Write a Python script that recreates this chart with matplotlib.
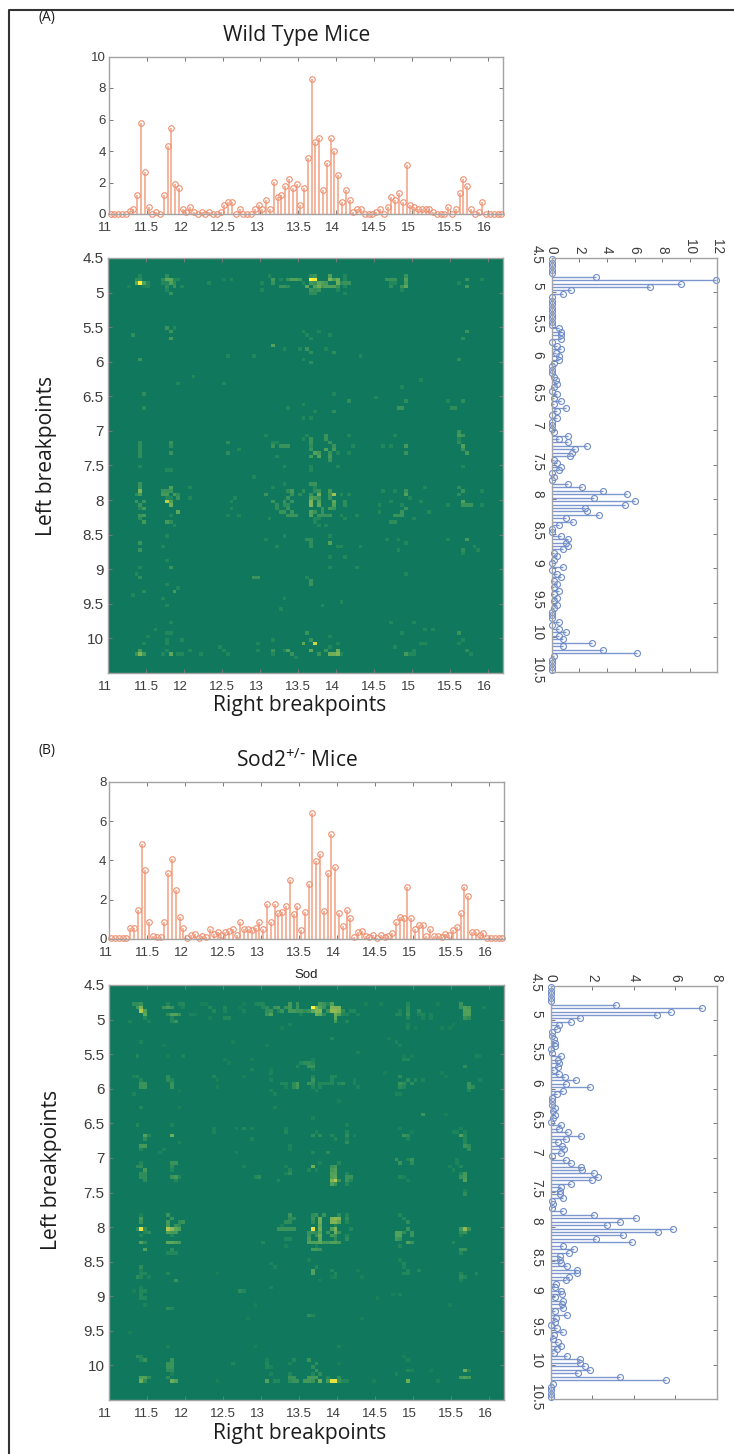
import matplotlib
matplotlib.use('Agg')
import matplotlib.pyplot as plt
from matplotlib.colors import LinearSegmentedColormap
from matplotlib.lines import Line2D
from matplotlib.transforms import ScaledTranslation
import numpy as np

W, H = 734, 1454

# marginal counts along right breakpoints (top stems)
wt_right = [0,0,0,0,0,.2,.3,1.2,5.75,2.65,.45,0,.15,0,1.2,4.3,5.45,1.9,1.65,.3,.15,.45,.15,0,.15,0,.15,0,0,.15,
            .6,.75,.75,0,.3,0,0,0,.3,.6,.3,.9,.3,2.05,1.05,1.2,1.8,2.2,1.65,1.9,.6,1.65,3.55,8.55,4.55,4.85,1.5,3.25,4.85,4.0,
            2.5,.75,1.5,.9,.15,.3,.3,0,0,0,.15,.3,0,.45,1.05,.9,1.35,.75,3.1,.6,.45,.3,.3,.3,.3,.15,0,0,0,.45,
            0,.3,1.35,2.2,1.8,.3,0,.15,.75,0,0,0,0,0]
sod_right = [.03,.03,.03,.03,.03,.55,.55,1.45,4.85,3.5,.85,.15,.1,.1,.85,3.35,4.05,2.5,1.1,.55,.05,.2,.25,.05,.15,.1,.5,.25,.35,.2,
             .35,.4,.5,.2,.85,.5,.5,.45,.55,.85,.5,1.8,.85,1.8,1.3,1.35,1.7,3.0,1.25,1.7,.45,1.35,2.8,6.4,3.95,4.3,1.4,3.35,5.35,3.65,
             1.3,.65,1.45,1.05,.1,.35,.4,.15,.1,.2,.05,.2,.1,.15,.3,.85,1.1,1.05,2.65,1.05,.5,.7,.7,.15,.5,.15,.15,.1,.25,.2,
             .45,.6,1.3,2.65,2.2,.35,.35,.2,.3,.03,.03,.03,.03,.03]

# marginal counts along left breakpoints (side stems)
wt_left = [0,0,0,0,0,3.2,11.9,9.4,7.15,1.4,.85,0,0,0,0,0,0,0,0,0,.5,.7,.7,.7,0,.35,.7,.3,.5,.5,
           .2,0,0,0,.2,.3,.35,.2,0,.35,.2,.7,.2,1.05,.35,0,.35,0,0,0,.2,1.2,.5,1.2,2.55,1.7,1.5,1.35,.2,.35,
           .7,.5,0,.2,0,1.2,2.2,3.75,5.45,3.05,6,5.3,2.4,2.55,3.4,1.05,1.55,.5,0,0,.7,1.2,1.05,1.2,.85,.2,.35,.2,0,.85,
           0,.35,.7,.2,.35,.2,.5,.2,.35,.2,.35,.2,0,0,0,.5,0,.5,1.05,.5,.85,2.9,.85,3.75,6.15,.2,0,0,0,0]
sod_left = [.02,.02,.02,.02,.02,3.15,7.3,5.8,5.1,1.4,1.0,.4,.3,.05,.05,.15,.2,.2,.02,.07,.5,.35,.4,.35,.15,.4,.7,1.2,.75,1.9,
            .6,.3,.08,.08,.05,.2,.1,.2,.1,0,.5,.4,.85,1.45,.75,.35,.55,.65,.5,.05,.75,1.0,1.45,1.5,2.1,2.3,2.0,1.0,.5,.45,
            .45,.6,.05,.1,.05,.6,2.1,4.1,3.35,2.7,5.9,5.15,3.5,2.2,3.9,.6,1.1,.9,.45,.45,.5,.8,1.25,1.25,.9,.75,.25,.2,.5,.55,
            .2,.6,.55,.6,.2,.8,.25,.2,0,.3,.6,.15,.1,.35,.5,.3,.15,.8,1.4,1.4,1.65,1.9,1.3,3.35,5.55,.1,.02,.02,.02,.02]

# brightest heatmap cells read by eye, (row, col, level), rest stays background
wt_cells = [
    (5,8,.2),(5,15,.25),(5,42,.2),(5,53,.25),(5,54,.3),(5,58,.4),(5,62,.2),(5,78,.3),
    (6,7,.25),(6,8,.25),(6,14,.25),(6,15,.45),(6,16,.45),(6,17,.2),(6,18,.2),(6,30,.15),(6,32,.2),(6,43,.35),(6,45,.2),(6,47,.3),(6,48,.4),(6,49,.4),(6,50,.35),
    (6,53,1),(6,54,.95),(6,58,.55),(6,59,.4),(6,60,.5),(6,62,.2),(6,73,.3),(6,74,.3),(6,75,.3),(6,78,.4),(6,94,.3),(6,98,.2),
    (7,7,.45),(7,8,1),(7,9,.4),(7,10,.2),(7,14,.2),(7,15,.2),(7,16,.4),(7,17,.25),(7,26,.2),(7,40,.2),(7,43,.3),(7,51,.2),(7,53,.35),(7,54,.3),(7,55,.45),(7,56,.4),
    (7,57,.35),(7,60,.5),(7,61,.25),(7,62,.3),(7,63,.3),(7,74,.2),(7,75,.2),(7,78,.35),(7,92,.2),
    (8,5,.15),(8,9,.15),(8,10,.2),(8,15,.25),(8,17,.3),(8,19,.2),(8,45,.3),(8,46,.3),(8,47,.25),(8,52,.45),(8,54,.4),(8,55,.5),(8,56,.35),(8,57,.4),(8,58,.4),(8,59,.4),(8,60,.3),
    (8,62,.2),(8,74,.25),(8,77,.3),(8,78,.45),(8,94,.35),
    (9,15,.2),(9,40,.2),(9,53,.3),(9,54,.25),(9,55,.3),(9,60,.2),(9,77,.2),(10,16,.3),(10,53,.25),(10,54,.25),(10,62,.2),
    (20,15,.3),(20,17,.2),(21,16,.3),(21,51,.2),(21,55,.2),(21,94,.3),(22,6,.25),(22,52,.2),(22,58,.2),(23,16,.35),(23,53,.2),(23,93,.25),
    (25,43,.4),(26,46,.2),(26,50,.2),(26,52,.3),(26,57,.2),(27,53,.25),(27,59,.25),(28,31,.2),(28,38,.2),(28,66,.2),(29,8,.3),(29,51,.2),(29,92,.25),(30,53,.25),
    (34,22,.2),(35,82,.2),(36,18,.2),(36,30,.2),(37,77,.2),(39,9,.25),(39,59,.2),(40,70,.2),(41,63,.25),(41,78,.25),(41,89,.2),(41,93,.25),(42,51,.2),
    (43,9,.25),(43,47,.2),(43,76,.3),(43,77,.3),(43,90,.25),(43,91,.25),(44,54,.2),(44,59,.25),(46,51,.2),(46,53,.2),
    (50,92,.3),(51,41,.2),(51,52,.2),(51,57,.3),(51,63,.2),(51,75,.2),(51,92,.35),(51,93,.3),(52,51,.2),(52,53,.3),(52,57,.3),(52,92,.2),
    (53,8,.25),(53,16,.3),(53,31,.25),(53,43,.2),(53,44,.2),(53,53,.3),(53,58,.3),(53,92,.25),
    (54,8,.25),(54,16,.25),(54,43,.3),(54,45,.3),(54,46,.3),(54,47,.3),(54,53,.25),(54,59,.3),(54,64,.2),(54,72,.2),(54,74,.2),(54,78,.35),(54,93,.4),
    (55,8,.25),(55,34,.2),(55,53,.3),(55,57,.4),(55,59,.35),(55,93,.3),(56,8,.25),(56,16,.3),(56,31,.25),(56,54,.4),(56,55,.35),(56,58,.3),(56,60,.2),(56,63,.2),(56,78,.3),(56,94,.35),
    (57,8,.25),(57,44,.2),(57,53,.35),(57,55,.4),(57,58,.35),(58,58,.3),(60,8,.2),(60,46,.2),(60,53,.2),(60,60,.2),(60,93,.2),
    (61,15,.2),(61,16,.2),(61,53,.2),(63,38,.2),
    (65,8,.3),(65,46,.2),(65,53,.3),(65,54,.3),(66,8,.3),(66,16,.4),(66,21,.2),(66,43,.2),(66,54,.2),(66,83,.2),(66,92,.25),
    (67,8,.55),(67,14,.3),(67,15,.3),(67,16,.3),(67,47,.25),(67,48,.35),(67,51,.25),(67,54,.25),(67,55,.3),(67,58,.35),(67,72,.2),(67,75,.2),(67,78,.3),(67,93,.3),(67,98,.2),
    (68,7,.25),(68,8,.35),(68,14,.35),(68,15,.35),(68,17,.35),(68,18,.25),(68,41,.3),(68,48,.3),(68,50,.25),(68,53,.3),(68,55,.5),(68,58,.3),(68,59,.65),(68,61,.2),(68,63,.2),(68,78,.4),(68,92,.25),
    (69,15,.2),(69,16,.2),(69,18,.3),(69,21,.2),(69,33,.2),(69,47,.3),(69,53,.4),(69,54,.35),(69,55,.3),(69,58,.3),(69,79,.2),
    (70,7,.3),(70,9,.3),(70,15,.75),(70,16,.4),(70,32,.2),(70,43,.3),(70,46,.3),(70,48,.3),(70,53,.55),(70,55,.4),(70,59,.45),(70,62,.25),(70,74,.2),(70,82,.2),(70,93,.4),
    (71,8,.3),(71,16,.5),(71,44,.25),(71,46,.25),(71,47,.25),(71,53,.55),(71,55,.45),(71,59,.4),(71,62,.25),(71,71,.2),(71,77,.2),(71,89,.2),(71,93,.3),(71,94,.3),(71,95,.3),(71,98,.2),
    (72,8,.2),(72,9,.35),(72,32,.2),(72,44,.25),(72,47,.3),(72,56,.3),(72,58,.35),(72,59,.3),(72,78,.3),
    (73,18,.45),(73,45,.3),(73,46,.3),(73,48,.3),(73,53,.4),(73,54,.3),(73,56,.3),(73,71,.2),(73,77,.3),(73,84,.2),
    (74,8,.3),(74,9,.35),(74,16,.2),(74,31,.2),(74,34,.2),(74,47,.3),(74,48,.3),(74,49,.3),(74,53,.4),(74,55,.3),(74,56,.3),(74,57,.3),(74,58,.3),(74,61,.2),(74,65,.2),(74,75,.3),(74,76,.3),(74,77,.3),
    (75,8,.25),(75,42,.2),(75,54,.2),(75,55,.2),(75,62,.2),(75,80,.2),(76,9,.35),(76,15,.35),(76,16,.25),(76,54,.2),(76,74,.25),(76,75,.25),(77,17,.2),(77,55,.2),(77,57,.2),
    (80,15,.2),(80,46,.2),(80,58,.2),(81,41,.2),(81,52,.25),(81,53,.25),(81,73,.2),(81,76,.2),(81,89,.2),(81,94,.35),(82,8,.3),(82,53,.25),(82,58,.4),(82,78,.2),
    (83,14,.2),(83,44,.2),(83,53,.25),(83,60,.2),(83,61,.2),(83,66,.2),(83,96,.2),(84,8,.3),(84,76,.2),(84,93,.25),(84,97,.2),(85,93,.2),(86,58,.2),(86,62,.2),(87,15,.2),
    (89,8,.2),(89,16,.3),(89,58,.2),(89,65,.2),(91,7,.2),(91,78,.2),(92,8,.25),(92,38,.3),(92,39,.3),(92,52,.2),(93,53,.3),(94,15,.2),(94,53,.3),(95,18,.2),(96,9,.25),(96,17,.35),
    (97,6,.2),(98,14,.2),(98,46,.2),(99,61,.2),(100,15,.2),(100,56,.2),(101,45,.2),(105,16,.2),(105,74,.2),(105,80,.2),(107,12,.2),(107,83,.2),(107,85,.2),
    (108,15,.2),(108,16,.2),(108,52,.3),(108,77,.2),(108,92,.3),(109,10,.2),(109,58,.2),(110,15,.2),(110,19,.2),(110,43,.2),(110,53,.3),(110,93,.2),
    (111,9,.2),(111,15,.2),(111,39,.2),(111,51,.45),(111,54,.8),(111,60,.2),(111,82,.2),(111,83,.2),(111,92,.2),(112,29,.2),(112,58,.2),(112,75,.2),
    (113,8,.35),(113,15,.2),(113,21,.2),(113,30,.2),(113,39,.2),(113,43,.3),(113,46,.2),(113,47,.4),(113,53,.45),(113,57,.3),(113,60,.5),(113,80,.2),(113,94,.25),
    (114,7,.3),(114,8,.55),(114,9,.35),(114,14,.2),(114,16,.45),(114,18,.2),(114,19,.2),(114,24,.2),(114,31,.2),(114,43,.2),(114,48,.3),(114,55,.3),(114,58,.5),(114,59,.5),(114,60,.55),(114,61,.2),
    (114,78,.35),(114,79,.2),(114,80,.2),(114,95,.2),(115,49,.2),
]
sod_cells = [
    (5,6,.25),(5,7,.25),(5,8,.3),(5,15,.2),(5,18,.2),(5,19,.2),(5,24,.12),(5,25,.12),(5,35,.12),(5,38,.15),(5,39,.2),(5,40,.2),(5,47,.35),(5,49,.3),(5,55,.35),(5,56,.3),(5,57,.2),(5,58,.4),
    (5,67,.12),(5,71,.12),(5,78,.2),(5,86,.12),(5,92,.3),
    (6,7,.35),(6,8,.55),(6,14,.3),(6,15,.35),(6,16,.3),(6,19,.15),(6,26,.2),(6,30,.2),(6,34,.12),(6,40,.2),(6,41,.25),(6,43,.3),(6,44,.35),(6,46,.3),(6,47,.35),(6,49,.3),
    (6,53,1),(6,54,.55),(6,55,.4),(6,56,.3),(6,58,.55),(6,59,.55),(6,60,.55),(6,78,.25),(6,92,.3),(6,93,.4),(6,94,.35),(6,98,.15),
    (7,8,.7),(7,9,.4),(7,27,.2),(7,30,.15),(7,35,.15),(7,41,.25),(7,42,.3),(7,44,.2),(7,45,.3),(7,47,.35),(7,48,.35),(7,49,.3),(7,50,.3),(7,51,.25),(7,52,.3),(7,53,.45),(7,54,.55),(7,55,.55),(7,57,.3),
    (7,58,.6),(7,59,.6),(7,60,.55),(7,61,.25),(7,63,.2),(7,64,.2),(7,76,.15),(7,78,.25),(7,81,.25),(7,93,.4),(7,94,.4),
    (8,9,.45),(8,15,.25),(8,16,.4),(8,17,.4),(8,18,.3),(8,21,.15),(8,22,.12),(8,41,.3),(8,42,.4),(8,50,.15),(8,54,.5),(8,55,.45),(8,56,.25),(8,59,.5),(8,60,.4),(8,61,.2),(8,62,.2),(8,65,.15),
    (8,75,.2),(8,76,.2),(8,78,.3),(8,81,.15),(8,82,.2),(8,84,.15),(8,93,.4),(8,94,.4),
    (9,9,.2),(9,16,.2),(9,26,.12),(9,30,.2),(9,31,.2),(9,59,.45),(9,78,.2),(9,82,.15),(9,84,.15),(9,93,.3),(9,94,.25),
    (10,5,.15),(10,10,.15),(10,16,.2),(10,17,.3),(10,59,.35),(10,62,.2),(11,47,.15),(11,78,.15),(11,90,.12),(12,45,.12),(12,78,.15),(12,80,.12),(12,87,.12),(12,89,.12),
    (15,58,.2),(15,73,.12),(16,8,.15),(16,32,.12),(16,75,.15),(17,14,.12),(17,41,.12),(17,76,.15),(19,65,.15),
    (20,7,.2),(20,15,.12),(20,19,.15),(20,77,.12),(20,79,.12),(20,96,.15),(20,97,.12),(21,30,.12),(21,37,.12),(21,53,.15),(21,77,.2),(21,78,.2),
    (22,31,.12),(22,50,.2),(22,51,.25),(22,52,.25),(22,53,.2),(23,49,.2),(23,52,.3),(23,53,.3),(23,93,.25),(24,37,.15),(24,42,.12),(24,53,.15),(25,42,.15),(25,72,.12),(25,87,.12),
    (26,6,.15),(26,7,.2),(26,15,.25),(26,27,.2),(26,35,.12),(26,53,.2),(26,58,.2),(26,59,.2),(26,76,.25),(26,88,.12),
    (27,8,.2),(27,15,.25),(27,16,.2),(27,28,.12),(27,42,.15),(27,53,.3),(27,58,.2),(27,64,.15),(27,78,.25),(27,80,.2),(27,82,.15),(27,97,.15),
    (28,8,.3),(28,9,.3),(28,16,.3),(28,45,.2),(28,46,.2),(28,48,.25),(28,49,.35),(28,52,.3),(28,53,.25),(28,55,.2),(28,56,.2),(28,57,.2),(28,58,.2),(28,60,.2),(28,61,.25),(28,64,.15),
    (28,76,.3),(28,77,.25),(28,79,.25),(28,94,.3),
    (29,8,.3),(29,9,.3),(29,16,.3),(29,28,.12),(29,46,.15),(29,48,.25),(29,49,.35),(29,53,.2),(29,55,.2),(29,65,.15),(29,76,.25),(29,77,.2),(29,94,.3),(29,95,.25),
    (30,18,.12),(30,42,.15),(30,54,.15),(30,94,.2),(31,6,.15),(31,43,.15),(31,75,.15),(31,76,.15),(33,60,.12),(35,8,.2),(35,18,.12),(35,43,.15),(37,82,.3),(37,88,.12),(38,53,.15),
    (40,7,.2),(40,16,.15),(40,62,.15),(41,27,.15),(41,33,.15),(41,35,.2),(41,37,.15),(41,46,.15),(41,76,.15),(41,92,.15),
    (42,27,.15),(42,46,.2),(42,54,.15),(42,62,.2),(42,79,.12),(42,90,.15),(42,91,.15),(42,93,.15),
    (43,9,.4),(43,10,.2),(43,16,.5),(43,53,.25),(43,55,.25),(43,58,.2),(43,62,.25),(43,64,.15),(43,77,.3),(43,78,.25),(43,92,.4),(43,93,.2),
    (44,9,.25),(44,37,.15),(44,59,.2),(44,62,.15),(44,78,.15),(44,93,.2),(45,18,.15),(45,62,.25),(45,93,.2),
    (46,8,.35),(46,9,.35),(46,47,.15),(46,93,.3),(46,94,.25),(47,8,.2),(47,14,.15),(47,47,.15),(47,94,.25),(48,13,.15),(48,33,.15),(48,53,.2),(48,57,.25),
    (50,75,.3),(50,78,.2),(50,79,.3),(50,91,.15),(51,8,.2),(51,16,.3),(51,17,.3),(51,55,.15),(51,60,.2),(51,76,.3),(51,79,.25),(51,91,.15),
    (52,7,.25),(52,8,.25),(52,16,.25),(52,35,.15),(52,46,.15),(52,53,.5),(52,58,.3),(52,59,.35),(52,89,.15),(52,92,.2),
    (53,9,.35),(53,16,.2),(53,47,.2),(53,52,.2),(53,54,.15),(53,58,.35),(53,59,.4),(53,90,.15),
    (54,8,.25),(54,9,.25),(54,46,.15),(54,47,.25),(54,58,.4),(54,59,.4),(54,62,.2),(54,92,.2),(54,93,.35),
    (55,8,.25),(55,9,.25),(55,16,.3),(55,17,.35),(55,18,.2),(55,38,.2),(55,39,.25),(55,58,.4),(55,59,.45),(55,62,.3),(55,63,.3),(55,76,.2),(55,77,.15),(55,92,.3),(55,93,.35),
    (56,9,.25),(56,17,.2),(56,44,.2),(56,58,.55),(56,59,.7),(56,60,.3),(56,62,.3),(56,63,.2),(56,78,.15),(56,93,.4),(57,58,.4),(57,59,.3),(57,62,.2),(59,93,.15),(60,93,.25),
    (66,8,.15),(66,15,.3),(66,47,.3),(66,53,.25),(66,54,.3),(66,56,.3),(66,60,.25),(66,62,.2),(66,76,.2),
    (67,8,.35),(67,16,.3),(67,47,.25),(67,48,.25),(67,53,.3),(67,55,.5),(67,58,.55),(67,59,.6),(67,60,.55),(67,62,.25),(67,77,.2),
    (68,8,.3),(68,15,.35),(68,18,.25),(68,19,.3),(68,46,.25),(68,47,.25),(68,53,.25),(68,55,.5),(68,58,.55),(68,59,.55),(68,60,.45),(68,62,.2),(68,78,.25),
    (69,15,.35),(69,17,.3),(69,18,.25),(69,45,.15),(69,55,.45),(69,59,.2),
    (70,7,.25),(70,8,.9),(70,9,.25),(70,15,.7),(70,16,.6),(70,17,.45),(70,18,.4),(70,44,.3),(70,45,.3),(70,46,.3),(70,47,.3),(70,48,.3),(70,53,.9),(70,55,.5),(70,58,.4),(70,59,.55),(70,63,.2),(70,78,.3),
    (70,92,.35),(70,93,.6),(70,94,.3),
    (71,9,.2),(71,10,.25),(71,15,.4),(71,16,.35),(71,17,.35),(71,52,.3),(71,53,.3),(71,54,.25),(71,55,.4),(71,57,.3),(71,59,.5),(71,60,.3),(71,75,.4),(71,76,.4),(71,77,.25),(71,79,.3),(71,92,.25),(71,93,.3),
    (72,8,.2),(72,16,.2),(72,52,.3),(72,54,.3),(72,55,.5),(72,58,.35),(72,59,.3),(72,62,.2),(72,75,.4),(72,76,.4),(72,79,.3),(72,92,.15),
    (73,46,.2),(73,47,.2),(73,52,.35),(73,55,.45),(73,59,.25),(73,62,.25),(73,75,.35),(73,76,.3),
    (74,8,.4),(74,9,.25),(74,15,.45),(74,16,.45),(74,17,.4),(74,18,.35),(74,40,.2),(74,52,.4),(74,53,.4),(74,54,.4),(74,55,.45),(74,56,.35),(74,57,.35),(74,58,.4),(74,59,.4),(74,60,.35),(74,78,.4),(74,79,.3),(74,90,.2),
    (75,46,.15),(75,54,.15),(75,76,.2),(76,9,.4),(76,16,.25),(76,53,.35),(76,54,.35),(76,55,.3),(76,92,.3),(76,93,.3),(77,15,.2),(77,16,.2),(77,17,.2),(77,92,.2),
    (79,52,.15),(79,76,.15),(80,42,.15),(80,77,.2),(81,8,.25),(81,43,.15),(81,54,.2),(81,77,.15),(82,8,.15),(82,53,.4),(82,58,.2),(82,65,.12),(82,78,.2),(82,81,.2),
    (83,8,.2),(83,9,.2),(83,15,.2),(83,28,.12),(83,53,.4),(83,59,.2),(83,77,.2),(83,78,.2),(83,92,.2),(83,96,.2),(84,7,.25),(84,8,.2),(84,10,.15),(84,58,.12),(84,59,.15),(84,66,.12),(84,92,.25),(84,93,.2),
    (85,17,.3),(85,55,.12),(85,92,.15),(87,8,.15),(87,42,.15),(88,6,.12),(88,8,.2),(88,9,.2),(88,34,.25),(88,35,.2),(89,8,.2),(89,74,.12),(89,76,.15),(90,8,.2),(90,9,.2),(90,70,.12),
    (92,9,.15),(92,38,.12),(92,89,.12),(93,15,.25),(93,16,.2),(95,52,.25),(95,53,.2),(96,36,.12),(96,66,.12),(100,5,.12),(104,15,.15),(104,38,.12),(104,60,.15),
    (107,7,.25),(107,8,.2),(107,77,.12),(108,8,.2),(108,9,.3),(108,16,.3),(108,41,.15),(108,48,.2),(108,52,.3),(108,78,.15),
    (109,15,.3),(109,16,.3),(109,32,.2),(109,41,.2),(109,47,.15),(109,54,.25),(109,60,.12),(110,15,.3),(110,16,.3),(110,41,.2),(110,42,.15),(110,53,.25),
    (111,15,.25),(111,16,.25),(111,54,.3),(111,78,.2),(111,79,.15),(111,84,.12),(111,93,.5),(111,94,.2),(112,16,.15),(112,42,.15),(112,47,.2),(112,53,.2),(112,55,.25),(112,75,.15),
    (113,8,.4),(113,9,.4),(113,10,.25),(113,15,.25),(113,47,.3),(113,48,.3),(113,52,.35),(113,53,.35),(113,54,.35),(113,57,.2),(113,60,.25),(113,92,.35),(113,93,.4),(113,94,.35),
    (114,8,.5),(114,9,.25),(114,16,.5),(114,17,.4),(114,28,.12),(114,41,.4),(114,43,.2),(114,44,.2),(114,47,.25),(114,48,.3),(114,49,.3),(114,51,.35),(114,52,.35),(114,53,.3),(114,55,.5),(114,57,.35),
    (114,58,.9),(114,59,.9),(114,60,.3),(114,61,.2),(114,62,.2),(114,69,.12),(114,78,.5),(114,86,.15),
]

right_ticks = np.arange(11, 16.5, .5)
left_ticks = np.arange(4.5, 11, .5)
right_bins = 11.025 + .05 * np.arange(len(wt_right))
left_bins = 4.525 + .05 * np.arange(len(wt_left))

GREY = '#a3a3a3'
TXT = '#3c3c3c'
ORANGE = '#f3a184'
BLUE = '#7d97cf'
green_map = LinearSegmentedColormap.from_list('bp', [(0, '#10785c'), (.2, '#22875a'), (.45, '#5ea85a'), (.7, '#b4c752'), (1, '#fff03a')])

plt.rcParams['font.family'] = ['Liberation Sans', 'DejaVu Sans']
plt.rcParams['mathtext.default'] = 'regular'


def fmt(v):
    return f'{v:g}'


def px_axes(fig, x0, y0, x1, y1):
    return fig.add_axes([x0 / W, 1 - y1 / H, (x1 - x0) / W, (y1 - y0) / H])


def nudge(lbl, dx, dy):
    # offset in pixels, the original export has its tick labels slightly off
    lbl.set_transform(lbl.get_transform() + ScaledTranslation(dx / 100, dy / 100, fig.dpi_scale_trans))


def style(ax):
    for s in ax.spines.values():
        s.set_color(GREY)
        s.set_linewidth(1)
    ax.tick_params(direction='in', length=3, width=.7, color='#777777', top=True, right=True,
                   labelsize=9.5, labelcolor=TXT, pad=2)


def shift_whole_x(ax):
    for t, lbl in zip(right_ticks, ax.get_xticklabels()):
        if t == int(t):
            nudge(lbl, -3.5, 0)


def top_stem(ax, vals, ymax):
    ml, sl, bl = ax.stem(right_bins, vals, linefmt='-', markerfmt='o', basefmt='-')
    plt.setp(sl, color=ORANGE, linewidth=1.1)
    plt.setp(ml, markersize=4, markerfacecolor='none', markeredgecolor='#ef8f70', markeredgewidth=.8, clip_on=False)
    plt.setp(bl, color=ORANGE, linewidth=.8)
    ax.set_xlim(11, 16.2)
    ax.set_ylim(0, ymax)
    ax.set_xticks(right_ticks, [fmt(t) for t in right_ticks])
    style(ax)
    ax.tick_params(axis='x', pad=5.5)
    shift_whole_x(ax)


def heat(ax, cells):
    grid = np.zeros((len(left_bins), len(right_bins)))
    for r, c, v in cells:
        grid[r, c] = v
    ax.imshow(grid, cmap=green_map, vmin=0, vmax=1, extent=[11, 16.2, 10.5, 4.5], aspect='auto', interpolation='nearest')
    ax.set_xticks(right_ticks, [fmt(t) for t in right_ticks])
    ax.set_yticks(left_ticks[:-1], [fmt(t) for t in left_ticks[:-1]])
    style(ax)
    ax.tick_params(axis='y', labelsize=11, pad=3)
    ax.tick_params(axis='x', pad=5.5)
    shift_whole_x(ax)


def side_stem(ax, vals, xmax, xticks):
    ml, sl, bl = ax.stem(left_bins, vals, linefmt='-', markerfmt='o', basefmt='-', orientation='horizontal')
    plt.setp(sl, color=BLUE, linewidth=1)
    plt.setp(ml, markersize=4.3, markerfacecolor='none', markeredgecolor='#6f8cc8', markeredgewidth=.8, clip_on=False)
    plt.setp(bl, color='#5f7fc0', linewidth=1.2)
    ax.set_xlim(0, xmax)
    ax.set_ylim(10.5, 4.5)
    ax.set_xticks(xticks, [fmt(t) for t in xticks], rotation=-90, va='bottom', ha='center')
    ax.set_yticks(left_ticks, [fmt(t) for t in left_ticks], rotation=-90, va='center', ha='right')
    style(ax)
    ax.tick_params(labelsize=9.8)
    ax.tick_params(axis='x', top=True, labeltop=True, bottom=True, labelbottom=False, pad=3)
    ax.tick_params(axis='y', pad=5.5)
    for t, lbl in zip(left_ticks, ax.get_yticklabels()):
        up = {3: 3.5, 1: 6, 2: 4.5, 4: 2}[len(fmt(t))]
        nudge(lbl, 0, up)


fig = plt.figure(figsize=(W / 100, H / 100), dpi=100)

# panel frame, open on the right
frame_x = [734 / W, 8.5 / W, 8.5 / W]
frame_y = [1 - 10 / H, 1 - 10 / H, 0]
fig.add_artist(Line2D(frame_x, frame_y, transform=fig.transFigure, color='#333333', linewidth=1.5))

ax = px_axes(fig, 108.7, 56.5, 503.3, 214)
top_stem(ax, wt_right, 10)
ax = px_axes(fig, 108, 258, 503, 673)
heat(ax, wt_cells)
ax = px_axes(fig, 551.7, 257.7, 717.3, 672)
side_stem(ax, wt_left, 12, list(range(0, 13, 2)))

ax = px_axes(fig, 109.3, 781.7, 504.3, 939)
top_stem(ax, sod_right, 8)
ax = px_axes(fig, 108.7, 985, 504, 1400)
heat(ax, sod_cells)
ax = px_axes(fig, 550.7, 985.7, 716.7, 1399)
side_stem(ax, sod_left, 8, list(range(0, 9, 2)))


def label(x, y, s, size, **kw):
    fig.text(x / W, 1 - y / H, s, fontsize=size, ha='center', va='center', color='#1c1c1c',
             family=['Open Sans', 'DejaVu Sans'], **kw)


label(297, 35, 'Wild Type Mice', 15.2)
label(297, 760, r'Sod2$^{+/\text{-}}$ Mice', 15.2)
label(300, 705, 'Right breakpoints', 15.2)
label(300, 1433, 'Right breakpoints', 15.2)
label(47, 456, 'Left breakpoints', 15.2, rotation=90)
label(52, 1170, 'Left breakpoints', 15.2, rotation=90)
label(47, 18, '(A)', 10)
label(47, 751, '(B)', 10)
fig.text(306 / W, 1 - 975 / H, 'Sod', fontsize=9.5, ha='center', va='center', color='#222222')

fig.savefig('out.png', dpi=100)
